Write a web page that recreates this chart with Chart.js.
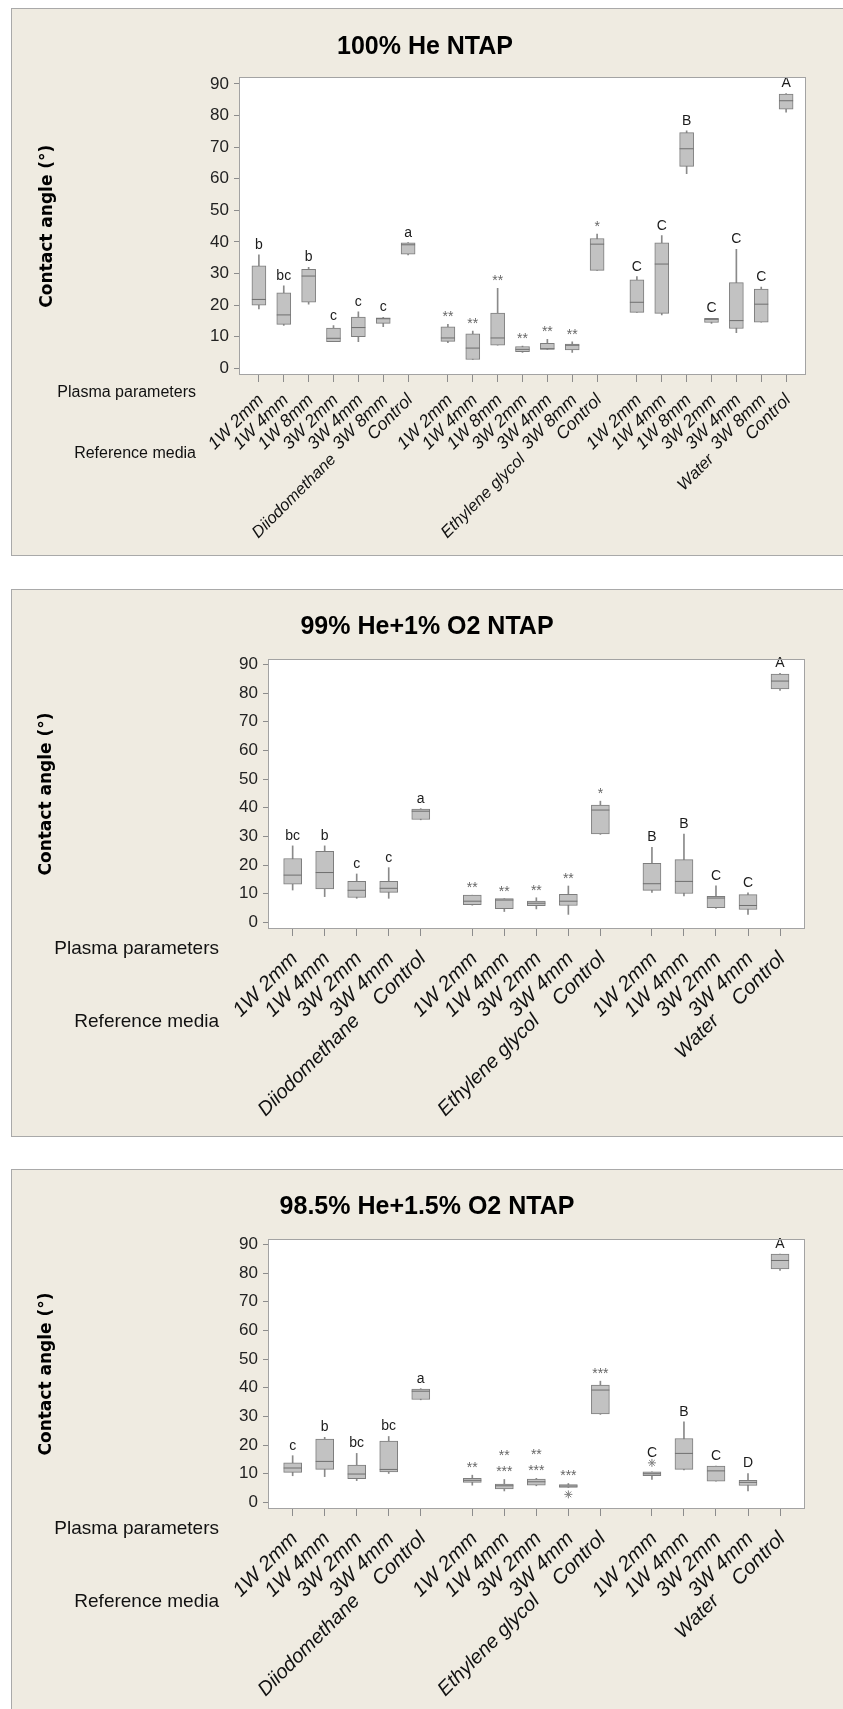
<!DOCTYPE html>
<html>
<head>
<meta charset="utf-8">
<script src="https://cdn.jsdelivr.net/npm/chart.js@4.4.1/dist/chart.umd.min.js"></script>
<style>
  html, body { margin: 0; padding: 0; background: #fff; }
  body { width: 843px; height: 1709px; overflow: hidden; position: relative; }
  .panel {
    position: absolute; left: 11px; width: 840px;
    background: #efebe1; border: 1px solid #a9a9a9; border-right: none;
    box-sizing: border-box;
  }
  .panel canvas { position: absolute; left: -1px; top: -1px; }
</style>
</head>
<body>
<div class="panel" style="top:8px;height:548px"><canvas id="he100" width="832" height="547"></canvas></div>
<div class="panel" style="top:589px;height:548px"><canvas id="o2a" width="832" height="547"></canvas></div>
<div class="panel" style="top:1169px;height:560px"><canvas id="o2b" width="832" height="547"></canvas></div>

<script>
const media = ['Diiodomethane', 'Ethylene glycol', 'Water'];
const plasma7 = ['1W 2mm', '1W 4mm', '1W 8mm', '3W 2mm', '3W 4mm', '3W 8mm', 'Control'];
const plasma5 = ['1W 2mm', '1W 4mm', '3W 2mm', '3W 4mm', 'Control'];
const yTicks = [0, 10, 20, 30, 40, 50, 60, 70, 80, 90];

// 100% He NTAP, 7 settings x 3 media
const he100Min = [18.8, 13.6, 20.3, 8.4, 8.4, 13.2, 35.9,  8.1, 2.8,  7.3, 5.0, 6.0, 5.0, 31.0,  17.7, 16.9, 61.6, 14.2, 11.3, 14.6, 81.1];
const he100Q1  = [20.0, 13.9, 20.9, 8.4, 10.0, 14.2, 36.1, 8.5, 2.8,  7.3, 5.3, 6.0, 5.8, 31.0,  17.7, 17.4, 63.9, 14.5, 12.6, 14.6, 82.0];
const he100Med = [21.8, 16.9, 29.2, 9.5, 12.9, 15.7, 39.1, 9.6, 6.4,  9.6, 6.0, 6.2, 7.3, 39.3,  20.9, 33.0, 69.5, 15.5, 15.1, 20.3, 84.7];
const he100Q3  = [32.4, 23.9, 31.3, 12.7, 16.2, 16.0, 39.7, 13.1, 10.9, 17.5, 6.9, 7.9, 7.7, 41.1, 28.0, 39.7, 74.6, 15.8, 27.1, 25.1, 86.8];
const he100Max = [35.9, 26.1, 32.0, 13.5, 17.9, 16.1, 39.8, 13.9, 11.8, 25.3, 7.0, 9.2, 8.4, 42.5, 29.0, 42.0, 75.2, 15.8, 37.7, 25.7, 87.0];
const he100Sig = ['b', 'bc', 'b', 'c', 'c', 'c', 'a', '**', '**', '**', '**', '**', '**', '*', 'C', 'C', 'B', 'C', 'C', 'C', 'A'];

// 99% He + 1% O2 NTAP, 5 settings x 3 media
const o2aMin = [11.3, 9.0, 8.4, 8.4, 35.8, 6.0, 3.8, 4.7, 2.8, 30.7, 10.5, 9.2, 4.9, 2.8, 80.9];
const o2aQ1  = [13.3, 11.7, 8.7, 10.5, 35.9, 6.2, 4.8, 5.8, 5.9, 30.9, 11.2, 10.1, 5.1, 4.5, 81.5];
const o2aMed = [16.5, 17.4, 11.2, 11.9, 38.8, 7.4, 7.8, 6.7, 7.4, 39.2, 13.5, 14.3, 8.5, 5.9, 84.2];
const o2aQ3  = [22.3, 24.8, 14.3, 14.3, 39.5, 9.5, 8.3, 7.4, 9.8, 40.9, 20.6, 21.9, 9.1, 9.7, 86.6];
const o2aMax = [26.7, 26.7, 16.9, 19.1, 39.7, 9.5, 8.3, 8.6, 12.7, 42.3, 26.2, 30.8, 12.8, 10.3, 86.9];
const o2aSig = ['bc', 'b', 'c', 'c', 'a', '**', '**', '**', '**', '*', 'B', 'B', 'C', 'C', 'A'];

// 98.5% He + 1.5% O2 NTAP
const o2bMin = [9.3, 9.0, 7.6, 10.1, 35.8, 6.0, 4.0, 5.8, 5.2, 30.7, 8.0, 11.3, 7.4, 4.0, 80.9];
const o2bQ1  = [10.5, 11.5, 8.3, 10.6, 35.9, 7.0, 4.7, 6.0, 5.2, 30.9, 9.3, 11.5, 7.4, 5.9, 81.5];
const o2bMed = [12.0, 14.3, 9.9, 11.5, 38.8, 7.7, 5.8, 7.2, 5.7, 39.2, 10.0, 17.1, 11.0, 7.0, 84.4];
const o2bQ3  = [13.8, 22.1, 13.0, 21.4, 39.5, 8.4, 6.4, 8.1, 6.2, 40.9, 10.7, 22.3, 12.7, 7.7, 86.6];
const o2bMax = [16.3, 22.7, 17.1, 23.0, 39.7, 9.5, 8.0, 8.4, 6.6, 42.3, 10.7, 28.1, 12.7, 10.1, 86.6];
const o2bSig = ['c', 'b', 'bc', 'bc', 'a', '**', '**\n***', '**\n***', '***', '***', 'C', 'B', 'C', 'D', 'A'];
const o2bOutIdx = [8, 10];
const o2bOutVal = [2.8, 13.8];

const SANS = "'Liberation Sans', Arial, sans-serif";

// letters, frame, row captions and media names
const boxExtras = {
  id: 'boxExtras',
  beforeDraw(chart) {
    const { ctx, chartArea: a } = chart;
    ctx.save();
    ctx.fillStyle = '#ffffff';
    ctx.fillRect(a.left, a.top, a.right - a.left, a.bottom - a.top);
    ctx.restore();
  },
  afterDatasetsDraw(chart, args, o) {
    const { ctx, scales: { x, y } } = chart;
    ctx.save();
    ctx.textAlign = 'center';
    ctx.textBaseline = 'alphabetic';
    ctx.font = '14px ' + SANS;
    o.sig.forEach((txt, i) => {
      const stars = txt[0] === '*';
      const lines = txt.split('\n');
      const px = x.getPixelForValue(o.pos[i]);
      let py = y.getPixelForValue(o.tops[i]) - (stars ? 3 : 6);
      ctx.fillStyle = stars ? '#666666' : '#1c1c1c';
      for (let j = lines.length - 1; j >= 0; j--) {
        ctx.fillText(lines[j], px, py);
        py -= 16;
      }
    });
    ctx.restore();
  },
  afterDraw(chart, args, o) {
    const { ctx, chartArea: a, scales: { x } } = chart;
    ctx.save();
    ctx.strokeStyle = '#a3a3a3';
    ctx.lineWidth = 1;
    ctx.strokeRect(Math.round(a.left) + 0.5, Math.round(a.top) + 0.5,
      Math.round(a.right - a.left) - 1, Math.round(a.bottom - a.top) - 1);

    ctx.fillStyle = '#111';
    ctx.textAlign = 'right';
    ctx.textBaseline = 'middle';
    ctx.font = o.rowSize + 'px ' + SANS;
    ctx.fillText('Plasma parameters', o.rowX, o.rowY[0]);
    ctx.fillText('Reference media', o.rowX, o.rowY[1]);

    ctx.font = 'italic ' + o.mediaSize + 'px ' + SANS;
    media.forEach((m, g) => {
      const cx = x.getPixelForValue(g * o.stride + (o.n - 1) / 2);
      ctx.save();
      ctx.translate(cx, o.mediaY);
      ctx.rotate(-Math.PI / 4);
      ctx.fillText(m, 0, 0);
      ctx.restore();
    });
    ctx.restore();
  }
};

function boxPlot(id, s) {
  const n = s.plasma.length;
  const pos = [];
  const names = [];
  media.forEach((m, g) => s.plasma.forEach((p, k) => {
    pos.push(g * s.stride + k);
    names.push(p);
  }));
  const outIdx = s.outIdx || [];
  const outVal = s.outVal || [];
  const tops = s.max.map((v, i) => {
    let t = v;
    outIdx.forEach((j, k) => { if (j === i) t = Math.max(t, outVal[k]); });
    return t;
  });
  const span = (lo, hi) => lo.map((v, i) => ({ x: pos[i], y: [v, hi[i]] }));

  return new Chart(document.getElementById(id), {
    type: 'bar',
    data: {
      datasets: [
        {
          // whiskers
          data: span(s.min, s.max),
          grouped: false,
          barThickness: 1,
          backgroundColor: '#8a8a8a',
          borderWidth: 0,
          order: 3
        },
        {
          // interquartile boxes
          data: span(s.q1, s.q3),
          grouped: false,
          barThickness: s.boxW,
          backgroundColor: '#c2c2c2',
          borderColor: '#7d7d7d',
          borderWidth: 1,
          borderSkipped: false,
          order: 2
        },
        {
          type: 'line',
          data: s.med.map((v, i) => ({ x: pos[i], y: v })),
          showLine: false,
          pointStyle: 'line',
          pointRadius: s.boxW / 2,
          pointBorderColor: '#6f6f6f',
          pointBorderWidth: 1,
          order: 1
        },
        {
          type: 'line',
          data: outIdx.map((j, k) => ({ x: pos[j], y: outVal[k] })),
          showLine: false,
          pointStyle: 'star',
          pointRadius: 4,
          pointBorderColor: '#808080',
          pointBorderWidth: 1,
          order: 1
        }
      ]
    },
    options: {
      responsive: false,
      animation: false,
      events: [],
      layout: { padding: { left: s.padLeft, right: s.padRight, top: 0, bottom: 0 } },
      plugins: {
        legend: { display: false },
        tooltip: { enabled: false },
        title: {
          display: true,
          text: s.title,
          color: '#000',
          font: { family: SANS, size: 25, weight: 'bold' },
          padding: { top: s.titleTop, bottom: s.titleBottom }
        },
        boxExtras: {
          sig: s.sig, pos, tops, n, stride: s.stride,
          rowX: s.rowX, rowY: s.rowY, rowSize: s.rowSize,
          mediaY: s.mediaY, mediaSize: s.mediaSize
        }
      },
      scales: {
        x: {
          type: 'linear',
          min: s.xMin,
          max: s.xMax,
          offset: false,
          afterBuildTicks: (sc) => { sc.ticks = pos.map(v => ({ value: v })); },
          afterFit: (sc) => { sc.height = s.xAxisH; },
          grid: { offset: false, drawOnChartArea: false, tickLength: 7, color: '#8c8c8c' },
          border: { display: false },
          ticks: {
            autoSkip: false,
            minRotation: 45,
            maxRotation: 45,
            padding: s.tickPad,
            labelOffset: 2,
            color: '#111',
            font: { family: SANS, size: s.tickSize, style: 'italic' },
            callback: (v, i) => names[i]
          }
        },
        y: {
          min: s.yMin,
          max: s.yMax,
          afterBuildTicks: (sc) => { sc.ticks = yTicks.map(v => ({ value: v })); },
          afterFit: (sc) => { sc.width = s.yAxisW; },
          grid: { drawOnChartArea: false, tickLength: 5, color: '#8c8c8c' },
          border: { display: false },
          ticks: { padding: 5, color: '#222', font: { family: SANS, size: 17 } },
          title: {
            display: true,
            text: 'Contact angle (°)',
            color: '#000',
            font: { family: "'DejaVu Sans', Verdana, sans-serif", size: 17, weight: 'bold' },
            padding: { top: s.yTitlePad, bottom: 0 }
          }
        }
      }
    },
    plugins: [boxExtras]
  });
}

boxPlot('he100', {
  title: '100% He NTAP',
  plasma: plasma7, stride: 7.6, xMin: -0.8, xMax: 22.0,
  yMin: -2.12, yMax: 92.12,
  min: he100Min, q1: he100Q1, med: he100Med, q3: he100Q3, max: he100Max, sig: he100Sig,
  boxW: 14, tickSize: 17.5, tickPad: 8,
  padLeft: 33, yAxisW: 195, xAxisH: 180, padRight: 37, yTitlePad: -7,
  titleTop: 24, titleBottom: 15.3,
  rowX: 185, rowY: [385, 446], rowSize: 16,
  mediaY: 449, mediaSize: 16.5
});

boxPlot('o2a', {
  title: '99% He+1% O2 NTAP',
  plasma: plasma5, stride: 5.61, xMin: -0.77, xMax: 16.0,
  yMin: -2.3, yMax: 91.9,
  min: o2aMin, q1: o2aQ1, med: o2aMed, q3: o2aQ3, max: o2aMax, sig: o2aSig,
  boxW: 18, tickSize: 20.5, tickPad: 11,
  padLeft: 38, yAxisW: 219, xAxisH: 207, padRight: 38, yTitlePad: -13,
  titleTop: 23, titleBottom: 17,
  rowX: 208, rowY: [360, 433], rowSize: 19,
  mediaY: 429, mediaSize: 20
});

boxPlot('o2b', {
  title: '98.5% He+1.5% O2 NTAP',
  plasma: plasma5, stride: 5.61, xMin: -0.77, xMax: 16.0,
  yMin: -2.3, yMax: 91.9,
  min: o2bMin, q1: o2bQ1, med: o2bMed, q3: o2bQ3, max: o2bMax, sig: o2bSig,
  outIdx: o2bOutIdx, outVal: o2bOutVal,
  boxW: 18, tickSize: 20.5, tickPad: 11,
  padLeft: 38, yAxisW: 219, xAxisH: 207, padRight: 38, yTitlePad: -13,
  titleTop: 23, titleBottom: 17,
  rowX: 208, rowY: [360, 433], rowSize: 19,
  mediaY: 429, mediaSize: 20
});
</script>
</body>
</html>
